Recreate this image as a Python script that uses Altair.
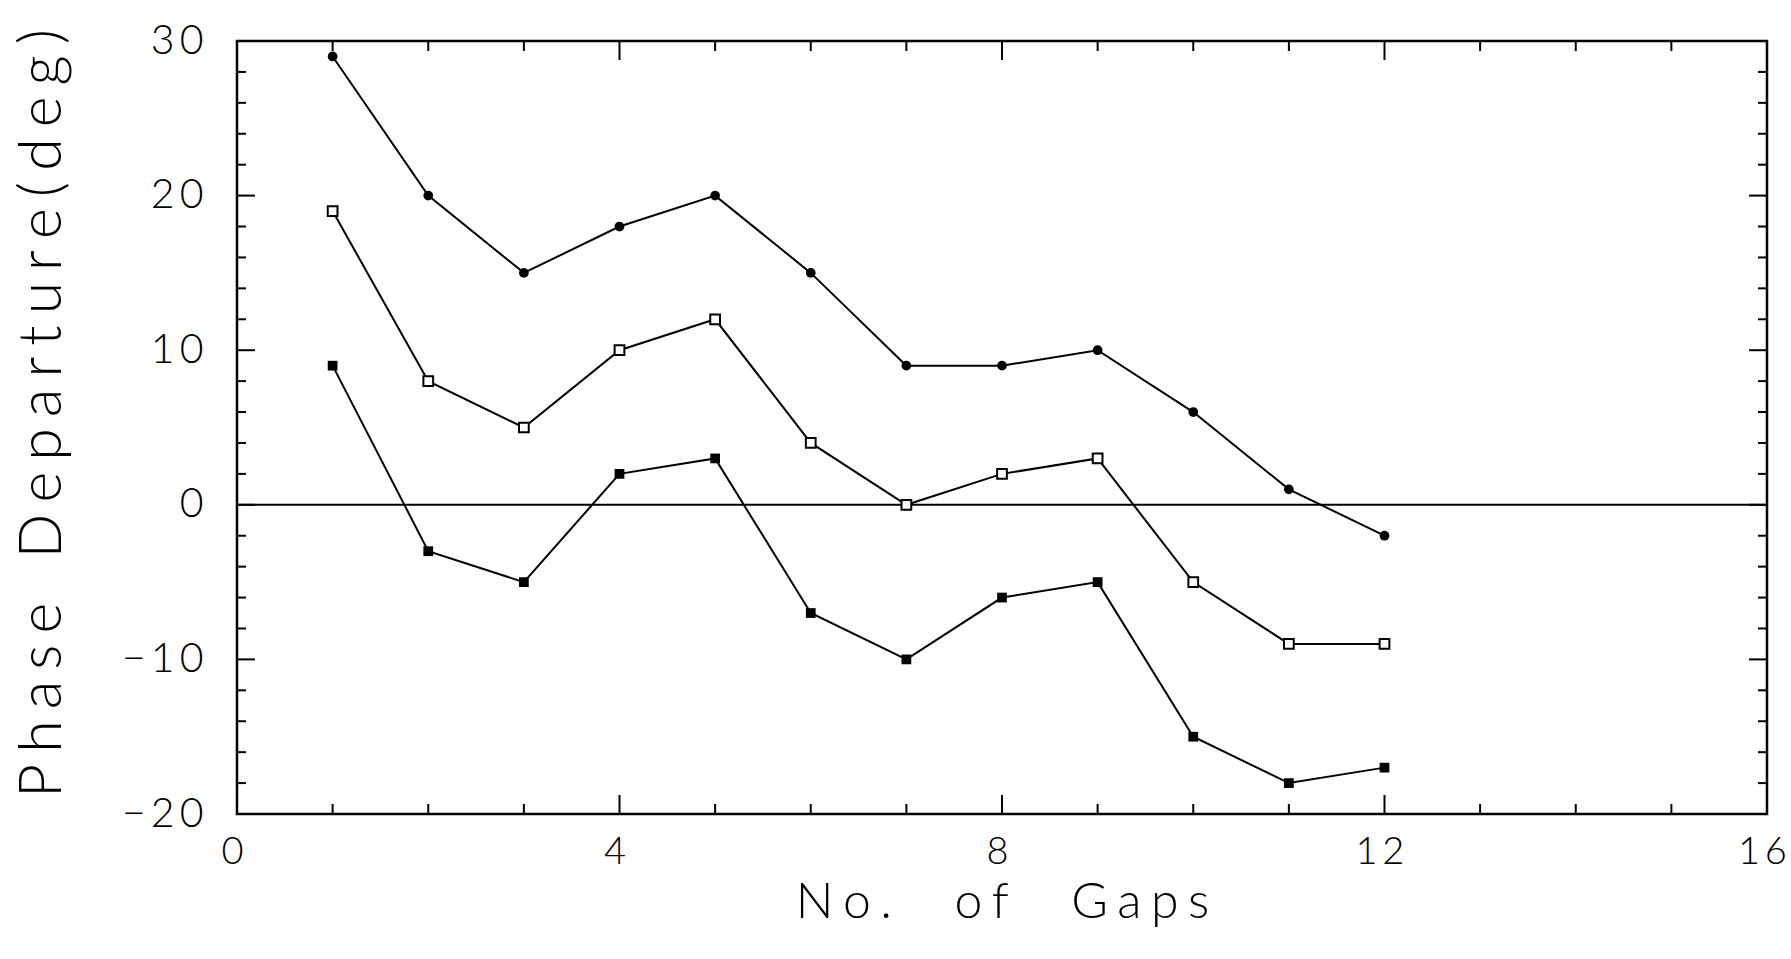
import altair as alt
import pandas as pd

# Phase departure (deg) against number of gaps, three measurement series
gaps = [1, 2, 3, 4, 5, 6, 7, 8, 9, 10, 11, 12]
series_circle = [29, 20, 15, 18, 20, 15, 9, 9, 10, 6, 1, -2]
series_open_square = [19, 8, 5, 10, 12, 4, 0, 2, 3, -5, -9, -9]
series_filled_square = [9, -3, -5, 2, 3, -7, -10, -6, -5, -15, -18, -17]

x_labels = [0, 4, 8, 12, 16]
y_labels = [-20, -10, 0, 10, 20, 30]
x_minor = [1, 2, 3, 5, 6, 7, 9, 10, 11, 13, 14, 15]
x_major = [4, 8, 12]
y_minor = [-18, -16, -14, -12, -8, -6, -4, -2, 2, 4, 6, 8, 12, 14, 16, 18, 22, 24, 26, 28]
y_major = [-10, 0, 10, 20]

W, H = 1530, 773
FONT = "Lato"
LETTER_GAP = "\u2009\u200a"


def spaced(text, word_gap="\u2003\u2002", letter_gap=LETTER_GAP):
    return word_gap.join(letter_gap.join(word) for word in text.split(" "))


rows = []
for name, vals in [("circle", series_circle), ("open", series_open_square), ("filled", series_filled_square)]:
    for g, v in zip(gaps, vals):
        rows.append({"gaps": g, "phase": v, "series": name})
df = pd.DataFrame(rows)

xscale = alt.Scale(domain=[0, 16], nice=False, zero=False)
yscale = alt.Scale(domain=[-20, 30], nice=False, zero=False)

label_expr = "join(split(datum.label, ''), '\u2009')"

xaxis = alt.Axis(
    values=x_labels, ticks=False, domain=False, grid=False, labelFlush=False,
    labelFont=FONT, labelFontSize=38, labelFontWeight=300, labelColor="black",
    labelBaseline="middle", labelPadding=38, labelOffset=-5, labelExpr=label_expr,
    title=spaced("No. of Gaps"), titleFont=FONT, titleFontSize=50,
    titleFontWeight=300, titleColor="black", titleBaseline="middle", titleY=88,
)
yaxis = alt.Axis(
    values=y_labels, ticks=False, domain=False, grid=False, labelFlush=False,
    labelFont=FONT, labelFontSize=41, labelFontWeight=300, labelColor="black",
    labelAlign="right", labelBaseline="middle", labelPadding=34, labelExpr=label_expr,
    title=spaced("Phase Departure(deg)", word_gap="\u2003"), titleFont=FONT, titleFontSize=59,
    titleFontWeight=300, titleColor="black", titleAngle=270, titleAlign="center",
    titleBaseline="middle", titleX=-195, titleY=372,
)

X = alt.X("gaps:Q", scale=xscale, axis=xaxis)
Y = alt.Y("phase:Q", scale=yscale, axis=yaxis)

base = alt.Chart(df)

lines = base.mark_line(color="black", strokeWidth=2).encode(x=X, y=Y, detail="series:N")

circles = base.transform_filter("datum.series == 'circle'").mark_point(
    shape="circle", filled=True, color="black", size=95, opacity=1
).encode(x=X, y=Y)
open_squares = base.transform_filter("datum.series == 'open'").mark_point(
    shape="square", filled=False, fill="white", stroke="black", strokeWidth=2, size=95, opacity=1
).encode(x=X, y=Y)
filled_squares = base.transform_filter("datum.series == 'filled'").mark_point(
    shape="square", filled=True, color="black", size=95, opacity=1
).encode(x=X, y=Y)

zero_line = alt.Chart(pd.DataFrame({"phase": [0]})).mark_rule(color="black", strokeWidth=2).encode(
    y=Y, x=alt.value(0), x2=alt.value(W)
)


def x_ticks(vals, length, side):
    c = alt.Chart(pd.DataFrame({"gaps": vals})).mark_rule(color="black", strokeWidth=2)
    if side == "bottom":
        return c.encode(x=X, y=alt.value(H), y2=alt.value(H - length))
    return c.encode(x=X, y=alt.value(0), y2=alt.value(length))


def y_ticks(vals, length, side):
    c = alt.Chart(pd.DataFrame({"phase": vals})).mark_rule(color="black", strokeWidth=2)
    if side == "left":
        return c.encode(y=Y, x=alt.value(0), x2=alt.value(length))
    return c.encode(y=Y, x=alt.value(W), x2=alt.value(W - length))


ticks = [
    x_ticks(x_minor, 10, "bottom"), x_ticks(x_major, 19, "bottom"),
    x_ticks(x_minor, 10, "top"), x_ticks(x_major, 19, "top"),
    y_ticks(y_minor, 9, "left"), y_ticks(y_major, 18, "left"),
    y_ticks(y_minor, 9, "right"), y_ticks(y_major, 18, "right"),
]

chart = alt.layer(lines, zero_line, *ticks, circles, open_squares, filled_squares).properties(
    width=W, height=H,
    autosize=alt.AutoSizeParams(type="none"),
    padding={"left": 237, "top": 41, "right": 24, "bottom": 145},
    background="white",
).configure_view(stroke="black", strokeWidth=2.5)

chart.save("out.html", embed_options={"renderer": "svg", "actions": False})
